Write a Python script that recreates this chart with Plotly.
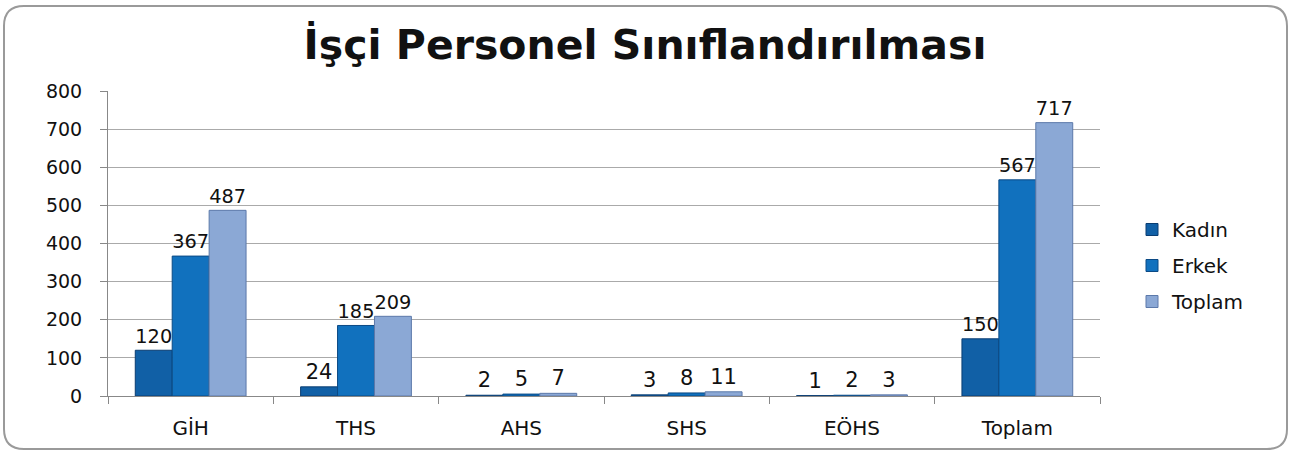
import plotly.graph_objects as go

categories = ["GİH", "THS", "AHS", "SHS", "EÖHS", "Toplam"]
kadin = [120, 24, 2, 3, 1, 150]
erkek = [367, 185, 5, 8, 2, 567]
toplam = [487, 209, 7, 11, 3, 717]
y_ticks = [0, 100, 200, 300, 400, 500, 600, 700, 800]

W, H = 1291, 454
L, R, T, B = 108, 191, 91, 58
pw, ph = W - L - R, H - T - B

font_family = "DejaVu Sans, Arial, sans-serif"

fig = go.Figure()
series = [
    ("Kadın", kadin, "#1160A6", "#0A3D72"),
    ("Erkek", erkek, "#1171BE", "#0B4A85"),
    ("Toplam", toplam, "#8BA8D5", "#5C79AA"),
]
for name, vals, col, edge in series:
    fig.add_trace(go.Bar(
        x=categories, y=vals, name=name, legendgroup=name,
        marker=dict(color=col, line=dict(color=edge, width=1)),
        text=[str(v) for v in vals], textposition="outside",
        textfont=dict(family=font_family, size=21, color="#111111"),
        cliponaxis=False,
    ))

def px_to_paper(x, y):
    return (x - L) / pw, (H - B - y) / ph

# rounded border
x0, y0, x1, y1, r = 4, 6, 1287, 449, 20
def P(x, y):
    a, b = px_to_paper(x, y)
    return f"{a:.5f},{b:.5f}"
path = (f"M {P(x0 + r, y0)} L {P(x1 - r, y0)} Q {P(x1, y0)} {P(x1, y0 + r)} "
        f"L {P(x1, y1 - r)} Q {P(x1, y1)} {P(x1 - r, y1)} L {P(x0 + r, y1)} "
        f"Q {P(x0, y1)} {P(x0, y1 - r)} L {P(x0, y0 + r)} Q {P(x0, y0)} {P(x0 + r, y0)} Z")

fig.update_layout(
    width=W, height=H,
    margin=dict(l=L, r=R, t=T, b=B, autoexpand=False),
    paper_bgcolor="white", plot_bgcolor="white",
    barmode="group", bargap=0.33, bargroupgap=0,
    title=dict(text="<b>İşçi Personel Sınıflandırılması</b>", x=645 / W, xref="container",
               xanchor="center", y=1 - 45 / H, yanchor="middle",
               font=dict(family=font_family, size=41, color="#111111")),
    font=dict(family=font_family, size=19, color="#111111"),
    showlegend=True,
    legend=dict(x=(1132 - L) / pw, y=(H - B - 210) / ph, xanchor="left", yanchor="top",
                font=dict(size=20), itemwidth=30, tracegroupgap=7, bgcolor="rgba(0,0,0,0)"),
    xaxis=dict(type="category", showline=True, linecolor="#888888", linewidth=1,
               ticks="outside", tickson="boundaries", ticklen=7, tickcolor="#888888",
               tickfont=dict(size=20), showgrid=False, ticklabelstandoff=14),
    yaxis=dict(range=[0, 800], tickvals=y_ticks, showline=True, linecolor="#888888",
               linewidth=1, ticks="outside", ticklen=7, tickcolor="#888888",
               showgrid=True, gridcolor="#AAAAAA", gridwidth=1, zeroline=False,
               tickfont=dict(size=19), ticklabelstandoff=14),
    shapes=[dict(type="path", xref="paper", yref="paper", path=path,
                 line=dict(color="#9A9A9A", width=2), fillcolor="rgba(0,0,0,0)", layer="below")],
)

fig.write_html("out.html", config={"displayModeBar": False},
               post_script="document.body.style.margin='0px';document.body.style.overflow='hidden';")
